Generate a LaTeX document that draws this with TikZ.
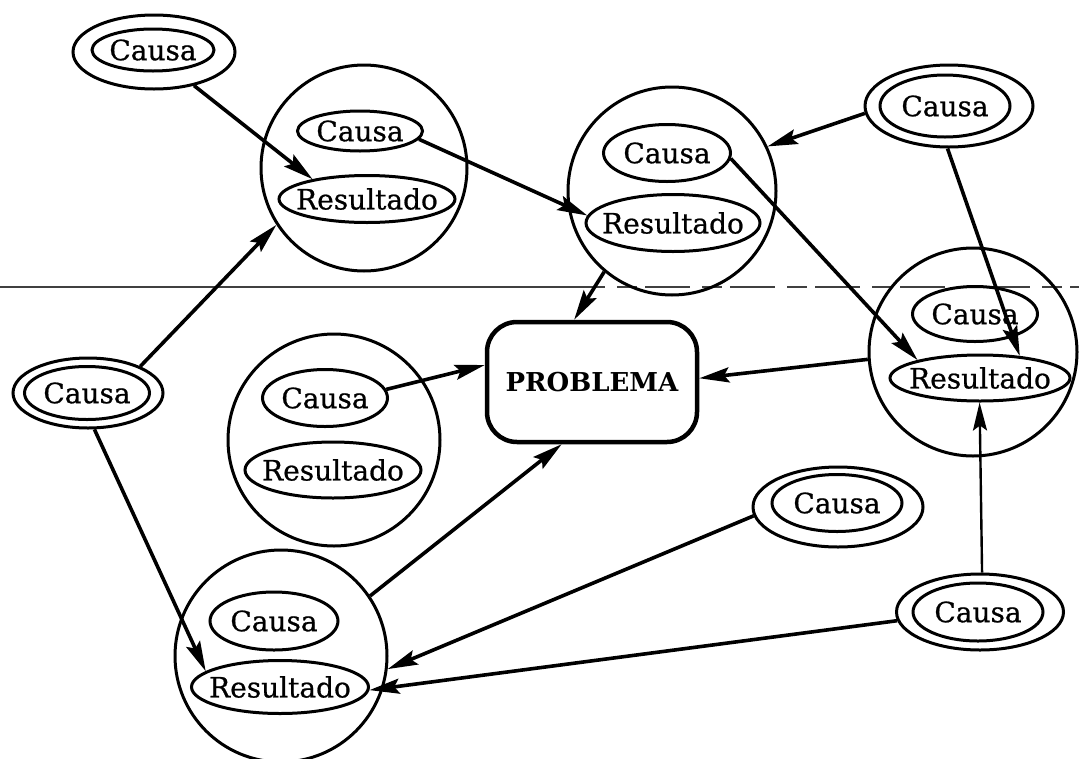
\documentclass[tikz,border=0pt]{standalone}
\usepackage{fontspec}
\setmainfont{DejaVu Serif}
\newfontfamily\labelfont{DejaVu Serif}[FakeBold=0.7]
\usetikzlibrary{shapes.geometric,arrows.meta}
\tikzset{
  lbl/.style={font=\labelfont\fontsize{28}{30}\selectfont},
  % the ellipse takes its size from minimum width/height only
  innerell/.style={draw, ellipse, line width=3pt, inner xsep=-40pt, inner ysep=-16pt, lbl},
  ring/.style={draw, ellipse, line width=3pt, inner sep=0pt},
  group/.style={draw, circle, line width=3pt, inner sep=0pt},
  conn/.style={line width=3.6pt, -{Stealth[length=30pt,width=15pt,inset=5pt]}},
  thinconn/.style={line width=2.4pt, -{Stealth[length=28pt,width=14pt,inset=5pt]}},
  prob/.style={draw, rounded corners=30pt, line width=4.5pt, inner sep=0pt,
    font=\bfseries\fontsize{26}{28}\selectfont},
  fold/.style={line width=1.2pt, black!75}
}
\begin{document}
\begin{tikzpicture}[x=1pt,y=-1pt]
\useasboundingbox (0,0) rectangle (1079,758);

% fold line across the sheet
\draw[fold] (0,287) -- (560,287);
\draw[fold, dash pattern=on 45pt off 12pt on 20pt off 8pt] (560,287) -- (1079,287);

% groups of cause and result
\node[group, minimum size=206pt] (A) at (364,168) {};
\node[group, minimum size=208pt] (B) at (672,191) {};
\node[group, minimum size=208pt] (C) at (973,352) {};
\node[group, minimum size=212pt] (D) at (334,440) {};
\node[group, minimum size=212pt] (E) at (281,656) {};

\node[innerell, minimum width=125pt, minimum height=40pt] (aC) at (360,131) {Causa};
\node[innerell, minimum width=176pt, minimum height=47pt] (aR) at (367,199) {Resultado};
\node[innerell, minimum width=127pt, minimum height=57pt] (bC) at (667,153) {Causa};
\node[innerell, minimum width=174pt, minimum height=57pt] (bR) at (673,223) {Resultado};
\node[innerell, minimum width=125pt, minimum height=55pt] (cC) at (975,314) {Causa};
\node[innerell, minimum width=180pt, minimum height=46pt] (cR) at (980,378) {Resultado};
\node[innerell, minimum width=125pt, minimum height=57pt] (dC) at (325,398) {Causa};
\node[innerell, minimum width=176pt, minimum height=56pt] (dR) at (333,470) {Resultado};
\node[innerell, minimum width=128pt, minimum height=58pt] (eC) at (274,621) {Causa};
\node[innerell, minimum width=177pt, minimum height=53pt] (eR) at (280,687) {Resultado};

% independent causes (double outline)
\node[ring, minimum width=162pt, minimum height=74pt] (c1) at (154,52) {};
\node[innerell, minimum width=122pt, minimum height=42pt] (c1i) at (153,50) {Causa};
\node[ring, minimum width=168pt, minimum height=82pt] (c2) at (949,106) {};
\node[innerell, minimum width=130pt, minimum height=62pt] (c2i) at (945,106) {Causa};
\node[ring, minimum width=150pt, minimum height=70pt] (c3) at (88,393) {};
\node[innerell, minimum width=125pt, minimum height=53pt] (c3i) at (87,393) {Causa};
\node[ring, minimum width=170pt, minimum height=80pt] (c4) at (838,507) {};
\node[innerell, minimum width=130pt, minimum height=57pt] (c4i) at (837,503) {Causa};
\node[ring, minimum width=167pt, minimum height=76pt] (c5) at (980,612) {};
\node[innerell, minimum width=130pt, minimum height=58pt] (c5i) at (978,612) {Causa};

% the problem
\node[prob, minimum width=210pt, minimum height=120pt] (P) at (592,382) {PROBLEMA};

% connectors
\draw[conn] (c1.-40) -- (aR.160);
\draw[conn] (aC.-8) -- (bR.175);
\draw[conn] (c3.27) -- (A.213);
\draw[conn] (bC.-5) -- (cR.164);
\draw[conn] (c2.185) -- (B.25);
\draw[conn] (c2.-92) -- (cR.29);
\draw[conn] (B.230) -- (P.106);
\draw[conn] (dC.8) -- (P.171);
\draw[conn] (C.184) -- (P.2);
\draw[conn] (E.34) -- (P.244);
\draw[conn] (c3.-80) -- (eR.168);
\draw[conn] (c4.186) -- (E.-7);
\draw[conn] (c5.186) -- (eR.-2);
\draw[thinconn] (c5.87) -- (cR.-91);
\end{tikzpicture}
\end{document}
